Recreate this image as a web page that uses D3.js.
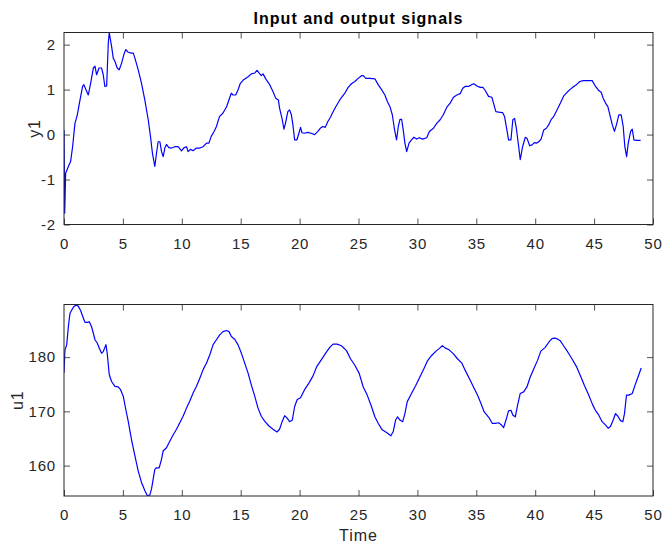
<!DOCTYPE html>
<html>
<head>
<meta charset="utf-8">
<script src="https://cdn.jsdelivr.net/npm/d3@7"></script>
<style>
  html, body { margin: 0; padding: 0; background: #fff; }
  svg { display: block; font-family: "Liberation Sans", Arial, sans-serif; }
</style>
</head>
<body>
<svg id="chart" width="662" height="544"></svg>
<script>
// Output signal y1 (time, value)
const y1Time = [0, 0.06, 0.14, 0.37, 0.56, 0.73, 0.93, 1.13, 1.36, 1.58, 1.69, 1.86, 2.06, 2.26, 2.49, 2.63, 2.77, 2.97, 3.19, 3.33, 3.47, 3.62, 3.76, 3.84, 4.04, 4.18, 4.32, 4.52, 4.69, 4.89, 5.08, 5.25, 5.45, 5.73, 5.88, 6.02, 6.30, 6.58, 6.86, 7.15, 7.34, 7.51, 7.71, 7.85, 7.99, 8.14, 8.28, 8.42, 8.56, 8.70, 8.90, 9.12, 9.41, 9.69, 9.97, 10.2, 10.4, 10.54, 10.73, 10.96, 11.24, 11.53, 11.81, 12.1, 12.3, 12.5, 12.74, 12.94, 13.2, 13.5, 13.8, 14.0, 14.2, 14.35, 14.58, 14.77, 14.97, 15.25, 15.6, 15.9, 16.2, 16.39, 16.55, 16.75, 16.9, 17.1, 17.46, 17.74, 17.97, 18.2, 18.3, 18.53, 18.67, 18.8, 19.0, 19.15, 19.3, 19.43, 19.58, 19.77, 19.94, 20.08, 20.2, 20.4, 20.7, 20.98, 21.27, 21.55, 21.75, 21.98, 22.18, 22.4, 22.63, 22.79, 23.07, 23.41, 23.84, 24.12, 24.4, 24.69, 24.97, 25.26, 25.4, 25.62, 25.96, 26.39, 26.67, 26.96, 27.24, 27.44, 27.67, 27.87, 28.04, 28.23, 28.38, 28.52, 28.66, 28.8, 28.94, 29.09, 29.29, 29.5, 29.7, 29.94, 30.16, 30.45, 30.79, 31.02, 31.36, 31.64, 31.93, 32.2, 32.5, 32.78, 33.06, 33.35, 33.63, 33.85, 34.05, 34.34, 34.6, 34.8, 35.05, 35.33, 35.56, 35.76, 36.04, 36.32, 36.46, 36.66, 36.9, 37.23, 37.4, 37.6, 37.74, 37.94, 38.1, 38.25, 38.4, 38.6, 38.73, 38.93, 39.16, 39.3, 39.53, 39.73, 39.93, 40.1, 40.3, 40.5, 40.72, 40.95, 41.15, 41.35, 41.57, 41.86, 42.14, 42.42, 42.71, 42.99, 43.27, 43.5, 43.79, 44.07, 44.4, 44.84, 45.12, 45.4, 45.6, 45.77, 45.97, 46.17, 46.34, 46.54, 46.73, 46.9, 47.1, 47.3, 47.47, 47.61, 47.76, 47.9, 48.1, 48.24, 48.38, 48.6, 48.95];
const y1Values = [0.1, -1.75, -0.86, -0.71, -0.6, -0.27, 0.25, 0.44, 0.77, 1.07, 1.11, 1.0, 0.88, 1.14, 1.48, 1.52, 1.33, 1.48, 1.48, 1.33, 1.07, 1.08, 2.03, 2.27, 1.96, 1.70, 1.63, 1.48, 1.44, 1.59, 1.78, 1.89, 1.83, 1.81, 1.81, 1.70, 1.44, 1.14, 0.77, 0.33, -0.04, -0.42, -0.71, -0.42, -0.16, -0.16, -0.38, -0.49, -0.30, -0.22, -0.29, -0.30, -0.27, -0.27, -0.36, -0.29, -0.27, -0.38, -0.33, -0.36, -0.30, -0.30, -0.27, -0.19, -0.19, -0.04, 0.07, 0.18, 0.40, 0.48, 0.62, 0.77, 0.92, 0.88, 0.88, 0.99, 1.14, 1.22, 1.28, 1.35, 1.37, 1.43, 1.37, 1.31, 1.35, 1.25, 1.11, 0.96, 0.81, 0.77, 0.59, 0.33, 0.12, 0.25, 0.51, 0.55, 0.44, 0.22, -0.12, -0.12, 0.03, 0.16, 0.04, 0.03, 0.05, 0.03, 0.0, 0.07, 0.14, 0.18, 0.16, 0.29, 0.39, 0.48, 0.62, 0.77, 0.92, 1.05, 1.13, 1.18, 1.25, 1.31, 1.31, 1.25, 1.25, 1.24, 1.11, 1.0, 0.88, 0.74, 0.62, 0.44, 0.14, -0.12, 0.18, 0.34, 0.34, 0.10, -0.19, -0.38, -0.19, -0.12, -0.06, -0.10, -0.07, -0.10, -0.07, 0.07, 0.14, 0.25, 0.33, 0.44, 0.61, 0.70, 0.83, 0.88, 0.91, 1.03, 1.07, 1.07, 1.11, 1.13, 1.08, 1.05, 1.05, 0.98, 0.85, 0.83, 0.70, 0.51, 0.50, 0.49, 0.40, 0.10, -0.12, -0.12, 0.33, 0.36, 0.14, -0.27, -0.56, -0.27, -0.06, -0.08, -0.25, -0.23, -0.18, -0.19, -0.16, -0.10, 0.10, 0.14, 0.22, 0.33, 0.40, 0.55, 0.70, 0.86, 0.94, 1.01, 1.07, 1.11, 1.18, 1.20, 1.20, 1.20, 1.07, 0.98, 0.94, 0.81, 0.70, 0.62, 0.44, 0.22, 0.07, 0.22, 0.44, 0.44, 0.18, -0.27, -0.49, -0.19, 0.07, 0.12, -0.12, -0.13, -0.13];

// Input signal u1 (time, value)
const u1Time = [0, 0.08, 0.23, 0.37, 0.51, 0.79, 1.02, 1.21, 1.41, 1.64, 1.78, 1.98, 2.15, 2.34, 2.49, 2.63, 2.82, 2.99, 3.19, 3.33, 3.56, 3.67, 3.84, 4.04, 4.32, 4.6, 4.8, 5.03, 5.25, 5.45, 5.73, 6.02, 6.3, 6.58, 6.86, 7.09, 7.29, 7.43, 7.57, 7.71, 7.85, 8.08, 8.28, 8.42, 8.7, 8.98, 9.27, 9.55, 9.83, 10.11, 10.4, 10.68, 10.96, 11.24, 11.53, 11.81, 12.1, 12.37, 12.66, 12.94, 13.22, 13.5, 13.79, 14.01, 14.21, 14.49, 14.77, 15.06, 15.34, 15.62, 15.9, 16.19, 16.47, 16.75, 17.03, 17.4, 17.74, 18.08, 18.3, 18.53, 18.73, 18.93, 19.15, 19.38, 19.58, 19.8, 20.08, 20.42, 20.79, 21.13, 21.47, 21.84, 22.2, 22.56, 22.84, 23.18, 23.55, 23.98, 24.32, 24.69, 25.06, 25.4, 25.74, 26.1, 26.39, 26.67, 27.01, 27.38, 27.75, 27.95, 28.15, 28.32, 28.52, 28.75, 28.94, 29.14, 29.5, 29.87, 30.2, 30.56, 30.85, 31.21, 31.58, 31.92, 32.12, 32.35, 32.72, 33.06, 33.4, 33.77, 34.05, 34.42, 34.76, 35.1, 35.39, 35.67, 35.9, 36.12, 36.35, 36.61, 36.89, 37.09, 37.32, 37.52, 37.74, 37.94, 38.11, 38.31, 38.51, 38.73, 39.02, 39.3, 39.57, 39.91, 40.2, 40.48, 40.85, 41.14, 41.42, 41.62, 41.84, 42.13, 42.41, 42.75, 43.12, 43.49, 43.83, 44.17, 44.54, 44.88, 45.11, 45.4, 45.68, 45.96, 46.19, 46.39, 46.62, 46.82, 47.02, 47.24, 47.44, 47.58, 47.75, 47.95, 48.24, 48.47, 48.72, 49.0];
const u1Values = [177.1, 181.3, 182.3, 185.6, 188.1, 189.2, 189.6, 189.4, 188.6, 187.2, 186.4, 186.4, 186.5, 185.6, 184.4, 183.2, 182.6, 181.7, 180.7, 181.0, 182.3, 180.7, 176.8, 175.5, 174.6, 174.5, 174.0, 172.8, 170.3, 168.2, 164.8, 161.8, 159.0, 156.9, 155.4, 154.4, 154.6, 155.7, 157.5, 159.3, 159.6, 159.6, 161.2, 162.7, 163.3, 164.5, 165.7, 166.7, 167.9, 169.1, 170.6, 171.9, 173.4, 174.6, 176.1, 177.7, 178.9, 180.4, 182.3, 183.2, 184.1, 184.7, 184.9, 184.7, 183.8, 183.3, 182.3, 180.7, 178.9, 177.1, 174.9, 172.8, 170.6, 169.1, 168.2, 167.3, 166.7, 166.2, 166.7, 168.2, 169.2, 168.8, 168.1, 168.4, 170.9, 172.2, 172.5, 174.0, 175.2, 176.5, 178.3, 179.5, 180.7, 181.8, 182.4, 182.4, 182.1, 181.2, 179.7, 178.5, 177.0, 174.5, 173.0, 170.9, 169.0, 167.8, 166.6, 166.1, 165.5, 166.3, 168.4, 169.0, 168.4, 168.1, 169.6, 171.8, 173.3, 174.8, 176.3, 177.9, 179.3, 180.3, 181.1, 181.7, 182.1, 181.7, 181.3, 180.6, 179.7, 178.9, 177.6, 176.0, 174.5, 173.0, 171.5, 169.9, 169.3, 168.7, 167.8, 167.8, 167.9, 167.6, 167.0, 168.4, 170.1, 170.2, 169.3, 169.0, 171.2, 173.3, 173.6, 174.5, 176.3, 178.0, 179.4, 181.1, 181.8, 182.7, 183.4, 183.5, 183.4, 183.0, 182.1, 181.0, 179.7, 178.3, 176.6, 174.8, 173.0, 171.2, 170.2, 169.3, 168.1, 167.5, 166.9, 167.2, 168.4, 169.6, 169.1, 168.3, 168.1, 169.6, 173.0, 173.0, 173.3, 174.8, 176.3, 178.0];

const xTicks = [0, 5, 10, 15, 20, 25, 30, 35, 40, 45, 50];
const y1Ticks = [-2, -1, 0, 1, 2];
const u1Ticks = [160, 170, 180];

const titleText = "Input and output signals";
const xLabel = "Time";

const W = 662, H = 544;
const left = 64, right = 653;
const axisColor = "#262626";
const lineColor = "#0000ff";
const tickLen = 6;
const plainNum = d => String(d);

const svg = d3.select("#chart");

const x = d3.scaleLinear().domain([0, 50]).range([left, right]);

function drawPanel(opts) {
  const { top, bottom, yDomain, yTicks, tv, vv, yLabel, yLabelX, id, showXLabel } = opts;
  const y = d3.scaleLinear().domain(yDomain).range([bottom, top]);
  const g = svg.append("g");

  g.append("clipPath").attr("id", id)
    .append("rect").attr("x", left).attr("y", top)
    .attr("width", right - left).attr("height", bottom - top);

  const data = tv.map((t, i) => [t, vv[i]]);
  const line = d3.line().x(d => x(d[0])).y(d => y(d[1]));
  g.append("path")
    .attr("clip-path", `url(#${id})`)
    .attr("d", line(data))
    .attr("fill", "none")
    .attr("stroke", lineColor)
    .attr("stroke-width", 1.2)
    .attr("stroke-linejoin", "round");

  const styleAxis = sel => {
    sel.select(".domain").remove();
    sel.selectAll(".tick line").attr("stroke", axisColor).attr("stroke-width", 0.8);
    sel.selectAll(".tick text").attr("fill", axisColor)
      .style("font-size", "15px")
      .style("letter-spacing", "0.8px")
      .style("font-family", '"Liberation Sans", Arial, sans-serif');
  };

  g.append("g").attr("transform", `translate(0,${bottom})`)
    .call(d3.axisBottom(x).tickValues(xTicks).tickSize(-tickLen).tickPadding(13.5).tickFormat(plainNum))
    .call(styleAxis);
  g.append("g").attr("transform", `translate(0,${top})`)
    .call(d3.axisTop(x).tickValues(xTicks.slice(1, -1)).tickSize(-tickLen).tickFormat(""))
    .call(styleAxis);
  g.append("g").attr("transform", `translate(${left},0)`)
    .call(d3.axisLeft(y).tickValues(yTicks).tickSize(-tickLen).tickPadding(8).tickFormat(plainNum))
    .call(styleAxis);
  g.append("g").attr("transform", `translate(${right},0)`)
    .call(d3.axisRight(y).tickValues(yTicks).tickSize(-tickLen).tickFormat(""))
    .call(styleAxis);

  g.append("rect")
    .attr("x", left).attr("y", top)
    .attr("width", right - left).attr("height", bottom - top)
    .attr("fill", "none").attr("stroke", axisColor).attr("stroke-width", 1);

  g.append("text")
    .attr("transform", `translate(${yLabelX},${(top + bottom) / 2}) rotate(-90)`)
    .attr("text-anchor", "middle")
    .attr("dy", "0.35em")
    .attr("fill", axisColor)
    .style("font-size", "16px")
    .style("letter-spacing", "0.8px")
    .text(yLabel);

  if (showXLabel) {
    g.append("text")
      .attr("x", (left + right) / 2).attr("y", 541)
      .attr("text-anchor", "middle")
      .attr("fill", axisColor)
      .style("font-size", "16px")
      .style("letter-spacing", "1px")
      .text(xLabel);
  }
}

drawPanel({ top: 32.5, bottom: 224.5, yDomain: [-2, 2.27], yTicks: y1Ticks,
  tv: y1Time, vv: y1Values, yLabel: "y1", yLabelX: 34, id: "clipTop", showXLabel: false });
drawPanel({ top: 304.5, bottom: 496, yDomain: [154.4, 189.7], yTicks: u1Ticks,
  tv: u1Time, vv: u1Values, yLabel: "u1", yLabelX: 17, id: "clipBottom", showXLabel: true });

svg.append("text")
  .attr("x", (left + right) / 2).attr("y", 24)
  .attr("text-anchor", "middle")
  .attr("fill", "#000")
  .style("font-size", "16px")
  .style("font-weight", "bold")
  .style("letter-spacing", "1px")
  .text(titleText);
</script>
</body>
</html>
